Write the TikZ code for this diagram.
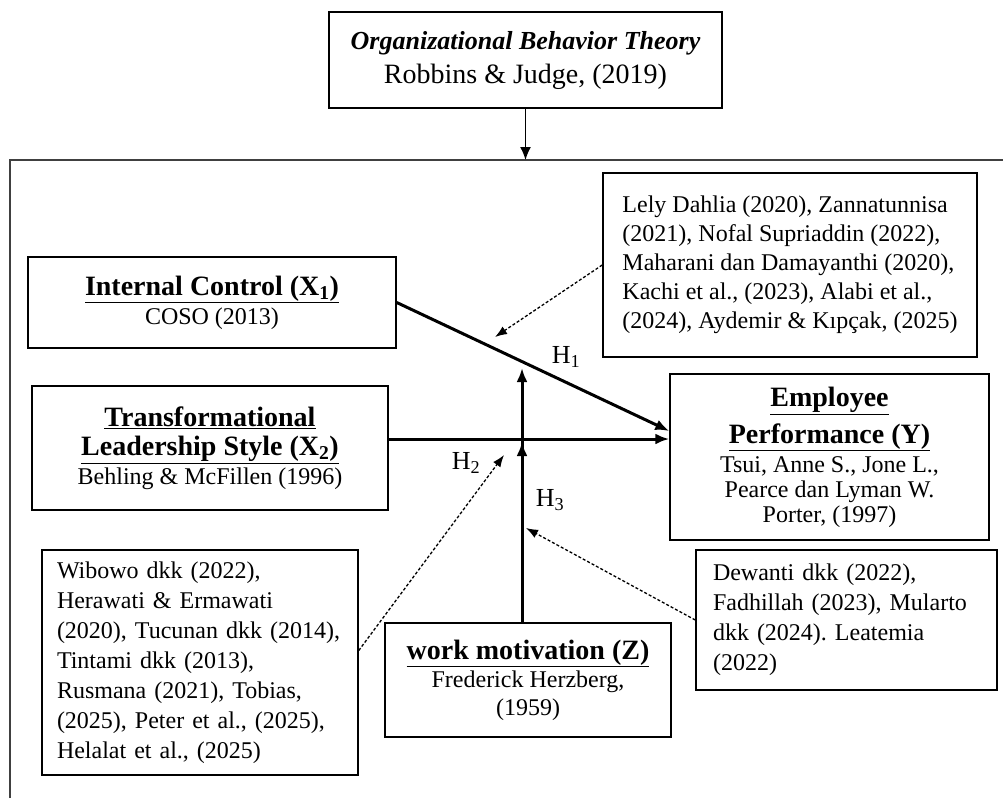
\documentclass[tikz,border=0pt]{standalone}
\usepackage{fontspec}
\setmainfont{Liberation Serif}
\usetikzlibrary{arrows.meta,calc}
\newcommand\mytitle[1]{{\fontsize{28}{29}\selectfont\bfseries\underline{#1}}}
\frenchspacing
\begin{document}
\begin{tikzpicture}[x=1pt,y=-1pt,
  box/.style={draw, line width=1.5pt, inner sep=0pt, align=center, font=\fontsize{24}{29}\selectfont},
  refbox/.style={draw, line width=1.5pt, inner ysep=0pt, align=left, font=\fontsize{24}{30}\selectfont},
  arr/.style={line width=3pt, -{Latex[length=14pt,width=11pt]}},
  thinarr/.style={line width=1.5pt, -{Latex[length=13pt,width=11pt]}},
  dsh/.style={line width=1.3pt, dash pattern=on 3pt off 2pt, -{Latex[length=12pt,width=9pt]}},
  frame/.style={line width=2pt, black!75},
  hlab/.style={font=\fontsize{26}{30}\selectfont, inner sep=0pt}
]
\fill[white] (0,0) rectangle (1003,798);
\useasboundingbox (0,0) rectangle (1003,798);

% frame
\coordinate (fbot) at (10,798);
\coordinate (fcorner) at (10,160);
\coordinate (fright) at (1003,160);
\coordinate (ftop) at (528,160);
\draw[frame] (fbot) -- (fcorner) -- (fright);

% boxes
\node[box, minimum width=393pt, minimum height=96pt, font=\fontsize{28}{34}\selectfont] (top) at (525.5,60)
  {{\fontsize{26}{34}\selectfont\bfseries\itshape Organizational Behavior Theory}\\Robbins \& Judge, (2019)};

\node[box, minimum width=368pt, minimum height=91pt] (ic) at (212,302.5)
  {\mytitle{Internal Control (X\textsubscript{1})}\\COSO (2013)};

\node[box, minimum width=356pt, minimum height=124pt] (tl) at (210,448)
  {\mytitle{Transformational}\\\mytitle{Leadership Style (X\textsubscript{2})}\\Behling \& McFillen (1996)};

\node[box, minimum width=319pt, minimum height=166pt, font=\fontsize{24}{25}\selectfont] (emp) at (829.5,457)
  {\mytitle{Employee}\\[8pt]\mytitle{Performance (Y)}\\[4pt]Tsui, Anne S., Jone L.,\\Pearce dan Lyman W.\\Porter, (1997)};

\node[box, minimum width=286pt, minimum height=114pt, font=\fontsize{24}{28}\selectfont] (wm) at (528,680)
  {\mytitle{work motivation (Z)}\\Frederick Herzberg,\\(1959)};

\node[refbox, inner xsep=0pt, minimum width=374pt, minimum height=184pt, font=\fontsize{24}{29}\selectfont] (lely) at (790,265)
  {Lely Dahlia (2020), Zannatunnisa\\(2021), Nofal Supriaddin (2022),\\Maharani dan Damayanthi (2020),\\Kachi et al., (2023), Alabi et al.,\\(2024), Aydemir \& Kıpçak, (2025)};

\node[refbox, inner xsep=15pt, text width=286pt, minimum height=225pt] (wib) at (200,662.5)
  {Wibowo dkk (2022),\\Herawati \& Ermawati\\(2020), Tucunan dkk (2014),\\Tintami dkk (2013),\\Rusmana (2021), Tobias,\\(2025), Peter et al., (2025),\\Helalat et al., (2025)};

\node[refbox, inner xsep=17pt, text width=267pt, minimum height=140pt] (dew) at (846.5,620)
  {Dewanti dkk (2022),\\Fadhillah (2023), Mularto\\dkk (2024). Leatemia\\(2022)};

% main connectors
\draw[thinarr] (top.south) -- (top.south |- ftop);
\draw[arr] (ic.east) -- ($(emp.west)+(0,-26)$);
\coordinate (h2s) at ($(tl.east)+(0,-9)$);
\draw[arr] (h2s) -- (h2s -| emp.west);
\coordinate (h3top) at (522,368);
\coordinate (h3mid) at (522,442);
\draw[arr] (h3top |- wm.north) -- (h3top);
\draw[arr] (h3top |- wm.north) -- (h3mid);

% dashed connectors
\coordinate (d1) at (495,337);
\draw[dsh] (lely.west) -- (d1);
\coordinate (d2) at (504,455);
\draw[dsh] ($(wib.east)+(0,-12)$) -- (d2);
\coordinate (d3) at (526,528);
\draw[dsh] (dew.west) -- (d3);

% labels
\node[hlab] (h1) at (566,357) {H\textsubscript{1}};
\node[hlab] (h2) at (466,463) {H\textsubscript{2}};
\node[hlab] (h3) at (550,500) {H\textsubscript{3}};
\end{tikzpicture}
\end{document}
